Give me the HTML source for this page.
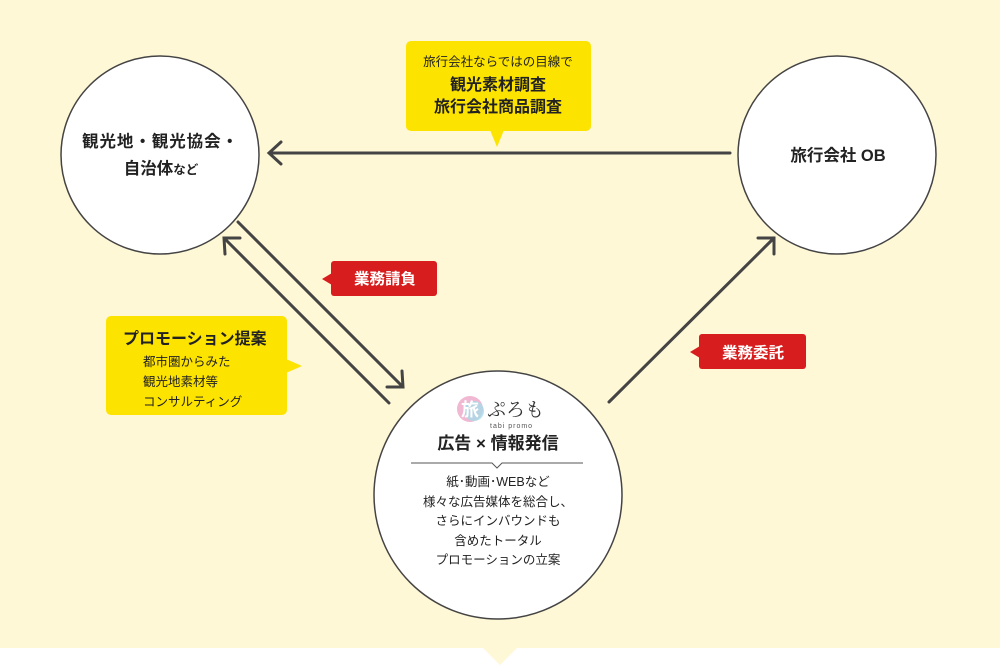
<!DOCTYPE html>
<html><head><meta charset="utf-8"><style>
body{margin:0;width:1000px;height:666px;background:#fff;overflow:hidden}
svg{display:block}
text{font-family:"Liberation Sans","Noto Sans CJK JP",sans-serif;fill:#222}
</style></head><body>
<svg width="1000" height="666" viewBox="0 0 1000 666">
<rect x="0" y="0" width="1000" height="648" fill="#fef8d6"/>
<polygon points="482,647 518,647 500,665" fill="#fef8d6"/>
<g stroke="#444" stroke-width="1.5" fill="#fff">
<circle cx="160" cy="155" r="99"/>
<circle cx="837" cy="155" r="99"/>
<circle cx="498" cy="495" r="124"/>
</g>
<g stroke="#444" stroke-width="3" fill="none" stroke-linecap="round">
<line x1="730" y1="153" x2="270" y2="153"/><polyline points="281,142 269,153 281,164"/>
<line x1="238" y1="222" x2="402" y2="386"/><polyline points="402,371 403,387 387,387"/>
<line x1="389" y1="403" x2="225" y2="239"/><polyline points="225,254 224,238 240,238"/>
<line x1="609" y1="402" x2="774" y2="238"/><polyline points="758,238 774,238 774,254"/>
</g>
<rect x="406" y="41" width="185" height="90" rx="5" fill="#fde300"/>
<polygon points="490,130 504,130 497,147" fill="#fde300"/>
<text x="498" y="66" font-size="12.5" text-anchor="middle">旅行会社ならではの目線で</text>
<text x="498" y="90" font-size="16" font-weight="bold" text-anchor="middle">観光素材調査</text>
<text x="498" y="112" font-size="16" font-weight="bold" text-anchor="middle">旅行会社商品調査</text>
<rect x="106" y="316" width="181" height="99" rx="5" fill="#fde300"/>
<polygon points="286,359 286,373 302,366" fill="#fde300"/>
<text x="123" y="344" font-size="16" font-weight="bold">プロモーション提案</text>
<text x="143" y="366" font-size="12.5">都市圏からみた</text>
<text x="143" y="386" font-size="12.5">観光地素材等</text>
<text x="143" y="406" font-size="12.5">コンサルティング</text>
<rect x="331" y="261" width="106" height="35" rx="3" fill="#d71d1d"/>
<polygon points="332,273 332,285 322,279" fill="#d71d1d"/>
<text x="385" y="284" font-size="15.5" font-weight="bold" text-anchor="middle" style="fill:#fff">業務請負</text>
<rect x="699" y="334" width="107" height="35" rx="3" fill="#d71d1d"/>
<polygon points="700,346 700,358 690,352" fill="#d71d1d"/>
<text x="753" y="358" font-size="15.5" font-weight="bold" text-anchor="middle" style="fill:#fff">業務委託</text>
<text x="160" y="147" font-size="16.5" font-weight="bold" text-anchor="middle" textLength="156">観光地・観光協会・</text>
<text x="161" y="174" font-size="16.5" font-weight="bold" text-anchor="middle">自治体<tspan font-size="12.5">など</tspan></text>
<text x="838" y="161" font-size="16.5" font-weight="bold" text-anchor="middle">旅行会社 OB</text>
<circle cx="470" cy="409" r="13" fill="#f0b8d2"/>
<circle cx="474" cy="411" r="10" fill="#a8dbe9" opacity="0.8"/>
<text x="470" y="416" font-size="18" text-anchor="middle" style="fill:#fff" font-weight="bold">旅</text>
<text x="487" y="416" font-size="19" style="fill:#333;font-family:'Noto Serif CJK SC',serif">ぷろも</text>
<text x="490" y="428" font-size="7" style="fill:#555;letter-spacing:1px">tabi promo</text>
<text x="498" y="449" font-size="17" font-weight="bold" text-anchor="middle">広告 × 情報発信</text>
<polyline points="411,463 492,463 497,468 502,463 583,463" fill="none" stroke="#555" stroke-width="1"/>
<g font-size="12.5" text-anchor="middle">
<text x="498" y="486">紙･動画･WEBなど</text>
<text x="498" y="506">様々な広告媒体を総合し、</text>
<text x="498" y="525">さらにインバウンドも</text>
<text x="498" y="545">含めたトータル</text>
<text x="498" y="564">プロモーションの立案</text>
</g>
</svg>
</body></html>
